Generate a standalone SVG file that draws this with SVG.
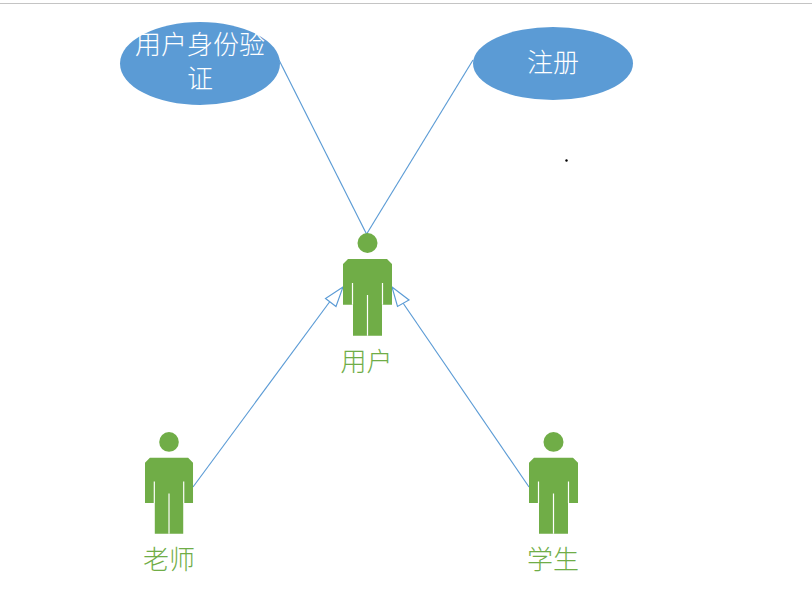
<svg xmlns="http://www.w3.org/2000/svg" width="812" height="594" viewBox="0 0 812 594">
<style>
.uc{fill:#5b9bd5}
.p{fill:#70ad47}
.gap{stroke:#fff;stroke-width:1.2;fill:none}
.c{stroke:#5b9bd5;stroke-width:1.15;fill:none}
.h{fill:#fff;stroke:#5b9bd5;stroke-width:1.15}
text{font-family:"Noto Sans CJK SC","Noto Sans CJK JP",sans-serif;font-weight:300;font-size:26px;text-anchor:middle}
.w{fill:#fff}
.g{fill:#70ad47}
</style>
<defs>
<g id="person">
<circle class="p" cx="24.500" cy="10" r="10"/>
<path class="p" d="M5 26H44L49 31V71.700H39V102.700H10V71.700H0V31Z"/>
<path class="gap" d="M9.500 50V71.700M39.500 50V71.700M24.500 62V102.700"/>
</g>
</defs>
<rect width="812" height="594" fill="#fff"/>
<rect x="0" y="3" width="812" height="1" fill="#c4c4c4"/>
<g id="connectors">
<path class="c" d="M279 60L367 235"/>
<path class="c" d="M473 60L366 235"/>
<path class="c" d="M193 487L331 300"/>
<path class="h" d="M343 287L325.500 298.500L336 306.500Z"/>
<path class="c" d="M529 487L403 303"/>
<path class="h" d="M392 287L409 300L397.500 306.500Z"/>
</g>
<g id="node-auth">
<ellipse class="uc" cx="200" cy="63.500" rx="80" ry="41.500"/>
<text class="w" x="200" y="54">用户身份验</text>
<text class="w" x="200" y="88">证</text>
</g>
<g id="node-register">
<ellipse class="uc" cx="553" cy="63.500" rx="80" ry="36.500"/>
<text class="w" x="553" y="72">注册</text>
</g>
<g id="node-user">
<use href="#person" x="343" y="233"/>
<text class="g" x="366.500" y="371">用户</text>
</g>
<g id="node-teacher">
<use href="#person" transform="translate(145 432) scale(0.98 0.99)"/>
<text class="g" x="169" y="569">老师</text>
</g>
<g id="node-student">
<use href="#person" transform="translate(529 432) scale(1 0.99)"/>
<text class="g" x="553" y="569">学生</text>
</g>
<circle id="dot" cx="566.500" cy="160.500" r="1.200" fill="#000"/>
</svg>
